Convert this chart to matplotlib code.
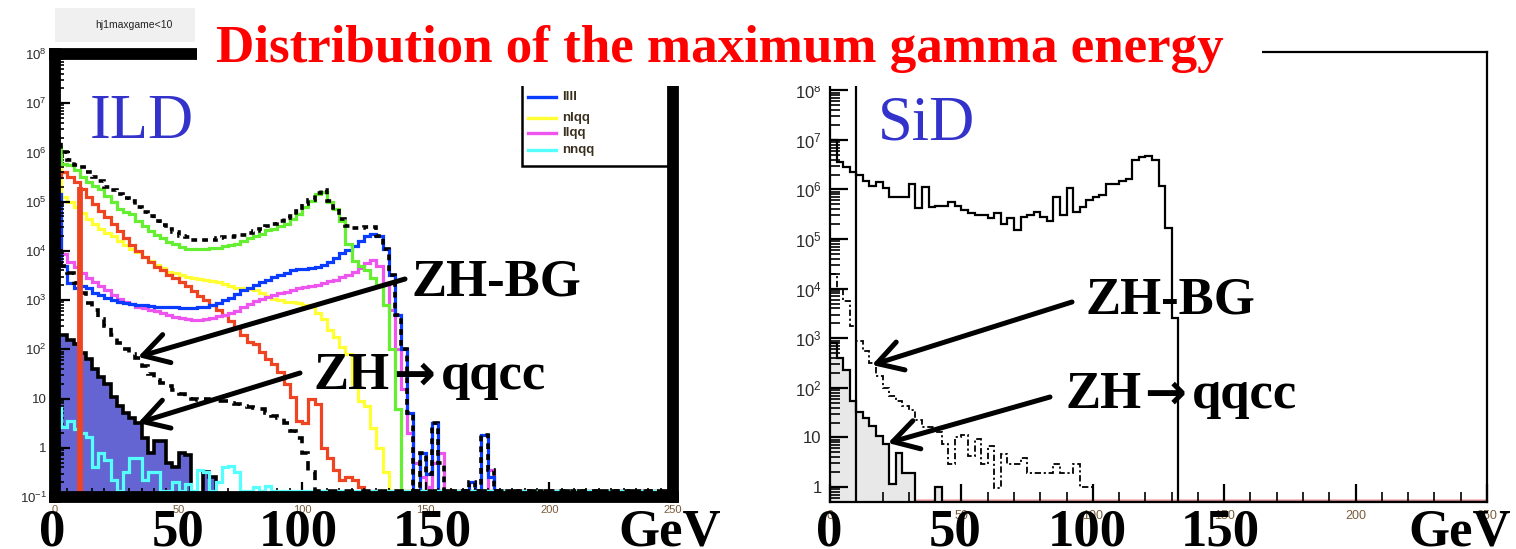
import numpy as np
import matplotlib
matplotlib.use('Agg')
import matplotlib.pyplot as plt
from matplotlib.patches import Rectangle, FancyArrowPatch
from matplotlib.lines import Line2D
from matplotlib.ticker import LogLocator, MultipleLocator, FuncFormatter, NullFormatter

W, H = 1516, 549
BIN = 2.5          # GeV per histogram bin, bins start at 0
X_MAX = 250

# ---- ILD panel: counts per 2.5 GeV bin (0 = empty bin) ----
ild_total = [2.0e6, 1.0e6, 7.1e5, 5.6e5, 5.0e5, 4.0e5, 3.2e5, 2.6e5, 2.0e5, 1.7e5,
             1.4e5, 1.2e5, 1.05e5, 7.9e4, 6.3e4, 5.0e4, 4.0e4, 3.3e4, 2.8e4, 2.4e4,
             2.0e4, 1.9e4, 1.7e4, 1.66e4, 1.66e4, 1.7e4, 1.8e4, 1.9e4, 1.9e4, 2.0e4,
             2.1e4, 2.3e4, 2.5e4, 2.8e4, 3.2e4, 3.5e4, 4.0e4, 4.6e4, 5.2e4, 6.6e4,
             8.9e4, 1.1e5, 1.5e5, 1.7e5, 1.05e5, 7.6e4, 4.5e4, 3.2e4, 2.9e4, 2.9e4,
             3.0e4, 3.0e4, 2.0e4, 1.1e4, 3200, 500, 100, 5, 0, 0.8,
             0.3, 3.2, 0.5, 0, 0, 0, 0, 0.2, 0, 1.8,
             0.35]
ild_green = [1.3e6, 5.8e5, 5.5e5, 4.5e5, 3.2e5, 2.5e5, 2.1e5, 1.8e5, 1.3e5, 1.0e5,
             7.0e4, 6.3e4, 5.6e4, 4.0e4, 3.2e4, 2.5e4, 2.1e4, 1.8e4, 1.5e4, 1.35e4,
             1.2e4, 1.1e4, 1.07e4, 1.1e4, 1.1e4, 1.17e4, 1.17e4, 1.26e4, 1.3e4, 1.4e4,
             1.6e4, 1.8e4, 2.0e4, 2.2e4, 2.6e4, 2.8e4, 3.2e4, 3.5e4, 4.5e4, 5.6e4,
             7.9e4, 1.05e5, 1.4e5, 1.6e5, 1.0e5, 7.0e4, 4.0e4, 1.4e4, 6300, 5000,
             4000, 2800, 2000, 800, 100, 6]
ild_llll = [1.4e5, 5000, 2200, 1800, 1900, 1800, 1400, 1260, 1120, 1000,
            930, 890, 850, 810, 790, 760, 740, 720, 710, 710,
            690, 680, 690, 710, 740, 790, 890, 1000, 1120, 1320,
            1580, 1780, 2000, 2300, 2600, 2950, 3300, 3600, 4000, 4200,
            4300, 4500, 4800, 5200, 6000, 7200, 8900, 1.05e4, 1.26e4, 1.6e4,
            2.0e4, 2.2e4, 2.0e4, 1.1e4, 3200, 500, 100, 5, 0, 0.8,
            0.3, 3.2, 0, 0, 0, 0, 0, 0.2, 0, 1.8,
            0.25]
ild_nlqq = [8.9e5, 1.26e5, 1.0e5, 7.9e4, 6.0e4, 4.5e4, 3.5e4, 2.8e4, 2.3e4, 2.0e4,
            1.6e4, 1.3e4, 1.1e4, 9300, 7600, 6300, 5200, 4500, 3800, 3500,
            3200, 3000, 2800, 2700, 2600, 2500, 2300, 2100, 1900, 1740,
            1780, 1700, 1580, 1410, 1200, 1070, 1000, 930, 930, 890,
            790, 710, 560, 420, 250, 180, 112, 79, 20, 8.9,
            7.1, 2.5, 1.0, 0.32]
ild_llqq = [6.9e4, 8500, 6000, 4800, 3500, 2800, 2300, 1900, 1600, 1300,
            1070, 930, 830, 740, 680, 630, 590, 540, 490, 460,
            430, 410, 400, 400, 410, 430, 470, 500, 540, 600,
            710, 830, 950, 1050, 1150, 1260, 1380, 1480, 1580, 1740,
            1820, 1900, 2000, 2200, 2400, 2600, 2950, 3300, 3700, 4500,
            5600, 6600, 5000, 2200, 630, 100, 16, 2.0, 0.5, 0.25,
            0.16, 0.5, 0.8, 0, 0, 0, 0, 0, 0, 0,
            0.35]
ild_nnqq = [6.5, 2.6, 3.5, 2.4, 2.0, 1.65, 0.4, 0.8, 0.56, 0.22,
            0, 0.32, 0.63, 0.63, 0.22, 0.32, 0.32, 0, 0, 0.2,
            0, 0.18, 0, 0.35, 0.32, 0, 0.2, 0.4, 0.42, 0.32,
            0, 0, 0.16, 0, 0.17]
ild_red = [3.2e5, 4.0e5, 3.2e5, 2.5e5, 1.8e5, 1.26e5, 8.9e4, 6.6e4, 4.8e4, 3.5e4,
           2.5e4, 1.8e4, 1.3e4, 1.0e4, 7600, 6000, 4800, 4000, 3300, 2800,
           2300, 1900, 1500, 1200, 1000, 790, 630, 500, 380, 280,
           200, 141, 126, 89, 63, 50, 35, 20, 11, 3.5,
           3.2, 10, 7.9, 1.0, 0.63, 0.35, 0.22, 0.25, 0.22, 0.16]
ild_zh_bg = [1.0e4, 5000, 3500, 2200, 1400, 890, 630, 420, 300, 200,
             132, 100, 79, 66, 45, 32, 24, 21, 18, 15,
             12.6, 10.7, 10, 9.5, 10, 9.3, 8.9, 8.9, 8.3, 7.9,
             7.1, 6.6, 6.3, 6.0, 5.0, 4.5, 4.0, 3.2, 2.2, 1.6,
             0.8, 0.32]
ild_zh_qqcc = [200, 200, 158, 126, 85, 63, 40, 28, 20, 11,
               7.1, 5.0, 4.0, 3.2, 1.6, 0.8, 1.4, 1.4, 0.5, 0.4,
               0.8, 0.7, 0, 0, 0.32, 0.25]
ild_cut_gev = 10
ild_cut_top = 2.0e5
ild_legend = ['llll', 'nlqq', 'llqq', 'nnqq']

# ---- SiD panel ----
sid_total = [1.0e7, 3.5e6, 2.8e6, 2.2e6, 2.0e6, 1.5e6, 1.2e6, 1.4e6, 1.05e6, 6.9e5,
             6.9e5, 6.9e5, 1.26e6, 4.2e5, 1.1e6, 4.4e5, 4.7e5, 4.7e5, 5.5e5, 4.7e5,
             3.8e5, 3.3e5, 3.1e5, 3.1e5, 2.6e5, 3.3e5, 2.0e5, 2.6e5, 1.5e5, 2.8e5,
             3.1e5, 3.5e5, 2.8e5, 2.3e5, 6.9e5, 3.1e5, 1.05e6, 3.5e5, 4.4e5, 6.0e5,
             6.9e5, 7.9e5, 1.3e6, 1.26e6, 1.45e6, 1.66e6, 3.9e6, 4.5e6, 4.8e6, 3.9e6,
             1.15e6, 1.7e5, 2600]
sid_zh_bg = [2.0e4, 1.0e4, 5600, 1800, 890, 562, 316, 174, 100, 69,
             55, 44, 35, 23, 16, 16, 12.6, 7.4, 2.9, 10,
             11, 4.3, 9.3, 2.9, 6.8, 0.95, 4.7, 2.9, 2.9, 3.9,
             1.9, 1.9, 1.9, 1.9, 2.9, 1.9, 1.9, 2.9, 1.0, 1.0]
sid_zh_qqcc = [800, 400, 224, 55, 32, 25, 17, 10.7, 7.4, 1.15,
               4.9, 1.9, 1.9, 0, 0, 0, 1.0]
sid_cut_gev = 10

ILD_YMIN, ILD_YMAX, ILD_FLOOR = 0.1, 1e8, 0.135
SID_YMIN, SID_YMAX = 0.5, 5.9e8

RED = '#ee4422'
BLUE = '#0a3cff'
GREEN = '#66ee33'
YELLOW = '#ffff33'
MAGENTA = '#ee55ee'
CYAN = '#55ffff'
SERIF = ['Liberation Serif', 'DejaVu Serif']

plt.rcParams['font.family'] = ['Liberation Sans', 'DejaVu Sans']
plt.rcParams['mathtext.default'] = 'regular'


def fig_xy(x, y):
    return x / W, 1 - y / H


def hist_edges(counts):
    # listed bins, then the empty rest of the 0-250 range as one bin
    return np.append(BIN * np.arange(len(counts) + 1), X_MAX)


def draw_hist(ax, counts, floor, **kw):
    c = np.append(np.asarray(counts, float), 0.0)
    ax.stairs(np.clip(c, floor, None), hist_edges(counts), baseline=None, **kw)


def fill_hist(ax, counts, base, **kw):
    c = np.append(np.asarray(counts, float), 0.0)
    ax.stairs(np.clip(c, base, None), hist_edges(counts), baseline=base,
              fill=True, **kw)


def root_label(v, pos):
    e = int(round(np.log10(v)))
    if e == 0:
        return '1'
    if e == 1:
        return '10'
    return r'$10^{%d}$' % e


def style_axes(ax, ymin, ymax, spine_w, maj, mnr, x_minor, ysize, xsize, pad):
    ax.set_yscale('log')
    ax.set_xlim(0, X_MAX)
    ax.set_ylim(ymin, ymax)
    for s in ax.spines.values():
        s.set_linewidth(spine_w)
        s.set_zorder(2.5)
    ax.yaxis.set_major_locator(LogLocator(base=10, numticks=20))
    ax.yaxis.set_minor_locator(LogLocator(base=10, subs=np.arange(2, 10), numticks=20))
    ax.yaxis.set_major_formatter(FuncFormatter(root_label))
    ax.yaxis.set_minor_formatter(NullFormatter())
    ax.xaxis.set_major_locator(MultipleLocator(50))
    ax.xaxis.set_minor_locator(MultipleLocator(x_minor))
    ax.tick_params(which='both', direction='in', color='black')
    ax.tick_params(which='major', length=maj, width=1.6)
    ax.tick_params(which='minor', length=mnr, width=1.2)
    ax.tick_params(axis='y', labelsize=ysize, labelcolor='#2a2a2a', pad=pad)
    ax.tick_params(axis='x', labelsize=xsize, labelcolor='#7a5c3a', pad=pad)


fig = plt.figure(figsize=(W / 100, H / 100), dpi=100)
ax1 = fig.add_axes([55 / W, 1 - 497 / H, 618 / W, 443 / H])
ax2 = fig.add_axes([830 / W, 1 - 502 / H, 657 / W, 450 / H])

# ---- ILD ----
style_axes(ax1, ILD_YMIN, ILD_YMAX, 8.5, 11, 6.5, 5, 9.5, 8, 6)
fill_hist(ax1, ild_zh_qqcc, ILD_YMIN, color='#6464d2', zorder=1)
draw_hist(ax1, ild_zh_qqcc, ILD_YMIN, color='black', lw=2.6, zorder=1.1)
draw_hist(ax1, ild_nlqq, ILD_FLOOR, color=YELLOW, lw=2.3, zorder=1.2)
draw_hist(ax1, ild_red, ILD_FLOOR, color=RED, lw=2.3, zorder=1.3)
draw_hist(ax1, ild_llqq, ILD_FLOOR, color=MAGENTA, lw=2.3, zorder=1.4)
draw_hist(ax1, ild_llll, ILD_FLOOR, color=BLUE, lw=2.3, zorder=1.5)
draw_hist(ax1, ild_green, ILD_FLOOR, color=GREEN, lw=2.3, zorder=1.6)
draw_hist(ax1, ild_nnqq, ILD_FLOOR, color=CYAN, lw=2.3, zorder=1.7)
draw_hist(ax1, ild_zh_bg, ILD_FLOOR, color='black', lw=2.6,
          linestyle=(0, (2.6, 2.0)), zorder=1.8)
draw_hist(ax1, ild_total, ILD_FLOOR, color='black', lw=2.6,
          linestyle=(0, (1.6, 1.4)), zorder=1.9)
ax1.vlines(ild_cut_gev, ILD_YMIN, ild_cut_top, color=RED, lw=4.2, zorder=2)

# legend box, top part hidden under the title strip
ax1.add_patch(Rectangle(fig_xy(522, 166), 151 / W, 100 / H, transform=fig.transFigure,
                        facecolor='white', edgecolor='black', lw=1.8,
                        zorder=2.3, clip_on=False))
for name, col, ypx in zip(ild_legend, [BLUE, YELLOW, MAGENTA, CYAN], [97, 118, 133, 150]):
    (x0, y0), (x1, _) = fig_xy(528, ypx), fig_xy(556, ypx)
    ax1.add_line(Line2D([x0, x1], [y0, y0], transform=fig.transFigure, color=col,
                        lw=2.4, zorder=2.4, clip_on=False))
    ax1.text(*fig_xy(562, ypx), name, transform=fig.transFigure, fontsize=9.5,
             fontweight='bold', color='#3a3020', va='center', ha='left',
             zorder=2.4, clip_on=False)

# ---- SiD ----
style_axes(ax2, SID_YMIN, SID_YMAX, 1.6, 13, 7, 10, 12, 9, 6)
fill_hist(ax2, sid_zh_qqcc, SID_YMIN, color='#e8e8e8', zorder=1)
draw_hist(ax2, sid_zh_qqcc, SID_YMIN, color='black', lw=1.6, zorder=1.1)
draw_hist(ax2, sid_zh_bg, SID_YMIN, color='black', lw=1.3,
          linestyle=(0, (3.5, 1.5, 1.2, 1.5)), zorder=1.2)
draw_hist(ax2, sid_total, SID_YMIN, color='black', lw=1.6, zorder=1.3)
ax2.axvline(sid_cut_gev, color='black', lw=1.6, zorder=1.4)
ax2.axhline(SID_YMIN, color='#ee7777', lw=4, alpha=0.6, zorder=0.9)

# ---- slide overlay ----
fig.add_artist(Rectangle(fig_xy(55, 42), 140 / W, 34 / H, transform=fig.transFigure,
                         facecolor='#f0f0f0', edgecolor='none', zorder=3))
fig.text(*fig_xy(95, 25), 'hj1maxgame<10', fontsize=7.5, color='#222222',
         va='center', ha='left', zorder=3.1)
fig.add_artist(Rectangle(fig_xy(197, 86), (1262 - 197) / W, 86 / H,
                         transform=fig.transFigure, facecolor='white',
                         edgecolor='none', zorder=5))
fig.text(*fig_xy(720, 62), 'Distribution of the maximum gamma energy', color='red',
         fontsize=38.2, fontweight='bold', family=SERIF, ha='center', va='baseline',
         zorder=6)

fig.text(*fig_xy(90, 138), 'ILD', color='#3333cc', fontsize=45, family=SERIF,
         ha='left', va='baseline', zorder=6)
fig.text(*fig_xy(878, 140), 'SiD', color='#3333cc', fontsize=45, family=SERIF,
         ha='left', va='baseline', zorder=6)

big = dict(fontsize=38, fontweight='bold', family=SERIF, va='baseline', zorder=6)
for x, y in [(412, 296), (1085, 313)]:
    fig.text(*fig_xy(x, y), 'ZH-BG', ha='left', **big)
# "ZH -> qqcc": heavy arrow glyph set separately, as on the slide
for x, y in [(314, 389), (1065, 408)]:
    fig.text(*fig_xy(x, y), 'ZH', ha='left', **big)
    fig.text(*fig_xy(x + 100, y + 1), '→', ha='center', fontsize=36,
             fontweight='bold', family=['DejaVu Sans'], va='baseline', zorder=6)
    fig.text(*fig_xy(x + 127, y), 'qqcc', ha='left', **big)

arrows = [((405, 279), (138, 357)), ((300, 373), (138, 423)),
          ((1072, 302), (872, 365)), ((1050, 397), (888, 443))]
for a, b in arrows:
    fig.add_artist(FancyArrowPatch(fig_xy(*a), fig_xy(*b), transform=fig.transFigure,
                                   arrowstyle='->,head_length=0.6,head_width=0.35',
                                   mutation_scale=30, lw=3.6, color='black',
                                   shrinkA=0, shrinkB=0, zorder=6))

big_ticks = [('0', 52), ('50', 178), ('100', 298), ('150', 432), ('GeV', 670),
             ('0', 829), ('50', 955), ('100', 1087), ('150', 1220), ('GeV', 1460)]
for label, x in big_ticks:
    fig.text(*fig_xy(x, 546), label, ha='center', **big)

fig.savefig('out.png', dpi=100)
